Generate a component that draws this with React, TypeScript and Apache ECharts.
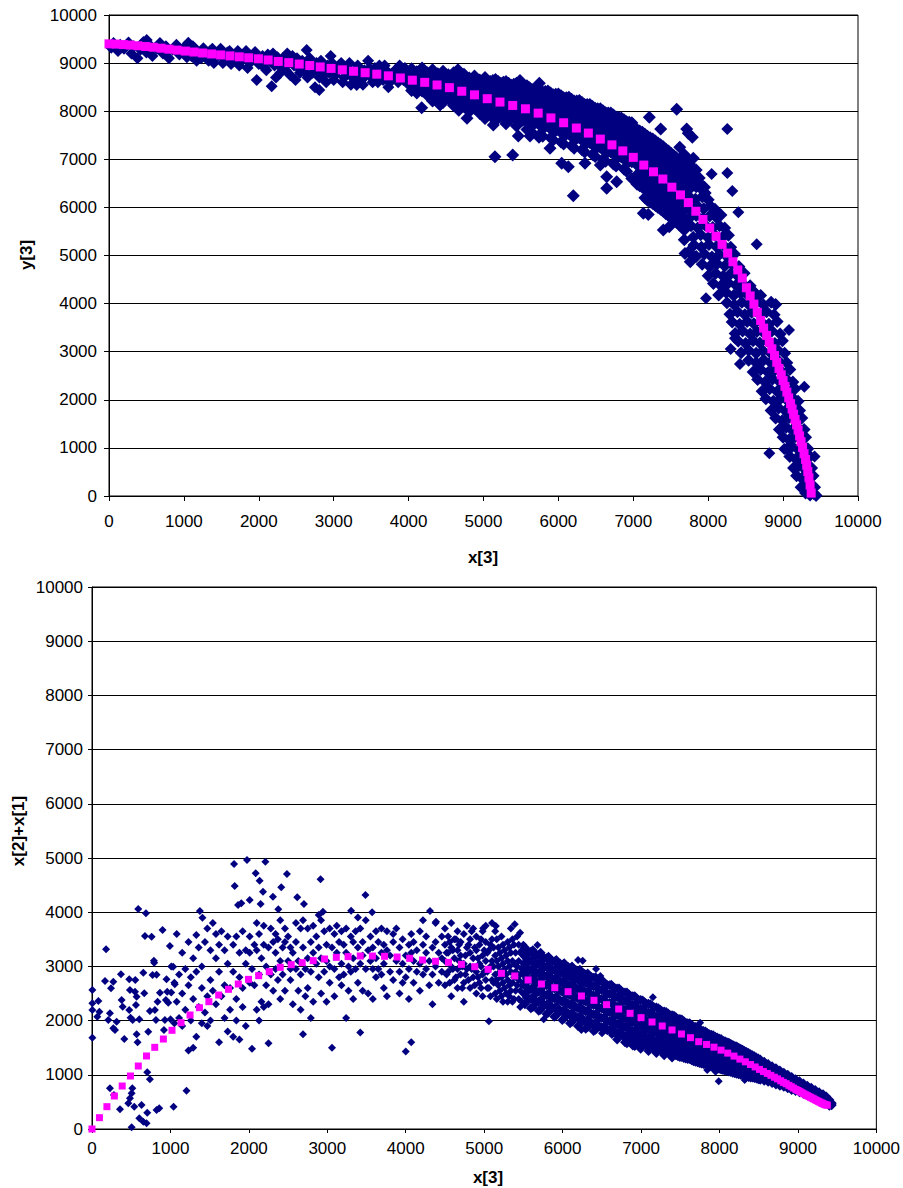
import React, { useEffect, useRef } from "react";
import * as echarts from "echarts";

const FONT = "'Liberation Sans', Arial, Helvetica, sans-serif";

// Fitted (magenta) curve: shared x[3] values, y for each panel
const curveX = [
  0, 95, 190, 285, 385, 490, 590, 695, 800, 910,
  1020, 1135, 1250, 1370, 1490, 1615, 1740, 1865, 1995, 2125,
  2260, 2400, 2540, 2680, 2820, 2965, 3115, 3265, 3420, 3575,
  3730, 3890, 4050, 4215, 4380, 4545, 4710, 4880, 5050, 5220,
  5390, 5560, 5730, 5900, 6070, 6240, 6400, 6560, 6715, 6860,
  7000, 7140, 7270, 7395, 7515, 7630, 7735, 7835, 7930, 8020,
  8105, 8185, 8260, 8330, 8395, 8455, 8510, 8560, 8610, 8655,
  8700, 8740, 8780, 8815, 8850, 8885, 8915, 8945, 8975, 9000,
  9025, 9050, 9075, 9100, 9120, 9140, 9160, 9180, 9200, 9220,
  9240, 9260, 9280, 9300, 9315, 9330, 9345, 9360, 9375,
];
const curveTopY = [
  9400, 9395, 9385, 9375, 9360, 9345, 9330, 9310, 9290, 9270,
  9250, 9230, 9210, 9190, 9170, 9150, 9130, 9110, 9090, 9065,
  9035, 9010, 8980, 8950, 8920, 8890, 8860, 8830, 8800, 8770,
  8735, 8690, 8645, 8600, 8545, 8490, 8415, 8340, 8260, 8190,
  8120, 8050, 7960, 7860, 7760, 7650, 7545, 7420, 7300, 7175,
  7040, 6880, 6740, 6590, 6420, 6260, 6100, 5920, 5750, 5570,
  5400, 5230, 5050, 4870, 4700, 4530, 4330, 4160, 3990, 3820,
  3650, 3490, 3340, 3200, 3060, 2920, 2780, 2650, 2520, 2400,
  2280, 2160, 2040, 1920, 1810, 1700, 1590, 1480, 1370, 1250,
  1130, 1010, 880, 760, 640, 510, 380, 230, 60,
];
const curveBottomY = [
  0, 209, 412, 609, 793, 978, 1162, 1347, 1507, 1660,
  1821, 1962, 2103, 2238, 2349, 2472, 2577, 2675, 2761, 2829,
  2903, 2983, 3032, 3069, 3106, 3137, 3167, 3180, 3192, 3192,
  3186, 3173, 3149, 3118, 3095, 3075, 3038, 2995, 2946, 2872,
  2823, 2749, 2675, 2607, 2533, 2454, 2374, 2294, 2214, 2134,
  2054, 1974, 1900, 1827, 1753, 1685, 1611, 1560, 1510, 1455,
  1400, 1345, 1290, 1240, 1190, 1145, 1100, 1060, 1025, 990,
  955, 925, 890, 860, 835, 805, 780, 755, 730, 710,
  690, 670, 650, 630, 615, 600, 585, 570, 555, 540,
  525, 510, 495, 480, 470, 460, 450, 445, 440,
];

// Top panel observations: y[3] vs x[3]
const topScatterA = [
  [30,9320],[60,9420],[120,9250],[150,9380],[200,9300],[260,9430],[300,9200],[330,9350],[380,9100],[420,9280],
  [460,9440],[503,9480],[500,9220],[540,9380],[580,9150],[640,9300],[680,9420],[720,9200],[760,9350],[800,9100],
  [850,9280],[900,9380],[940,9180],[990,9300],[1040,9120],[1059,9424],[1080,9250],[1120,9350],[1170,9050],[1210,9200],
  [1260,9310],[1300,9150],[1350,9250],[1400,9000],[1440,9180],[1490,9300],[1540,9080],[1580,9220],[1630,8980],[1680,9150],
  [1720,9250],[1760,9050],[1810,9180],[1850,8900],[1900,9100],[1950,9230],[1972,8650],[2000,8980],[2050,9150],[2100,8850],
  [2140,9050],[2172,8520],[2190,9200],[2230,8700],[2270,8950],[2320,9100],[2360,8850],[2400,9000],[2450,9150],[2490,8650],
  [2530,8900],[2580,9050],[2620,8800],[2639,9272],[2700,8950],[2750,8500],[2790,8850],[2808,8440],[2830,9050],[2870,8750],
  [2920,8950],[2960,9150],[3000,8650],[3050,8850],[3100,9000],[3140,8700],[3190,8900],[3230,8550],[3280,8800],[3307,8545],
  [3320,8950],[3370,8650],[3410,8850],[3460,9050],[3500,8700],[3550,8900],[3590,8600],[3640,8800],[3680,8950],[3730,8500],
  [3770,8700],[3820,8850],[3860,8600],[3910,8780],[3950,8900],[4000,8550],
];
const topScatterA2 = [
  [1020,9350],[1100,9150],[1150,9300],[1230,9100],[1280,9250],[1330,9050],[1380,9300],[1420,9100],[1470,9220],[1520,9000],
  [1560,9150],[1610,9250],[1650,9050],[1700,9200],[1740,8950],[1790,9100],[1830,9250],[1880,9000],[1920,9150],[1980,9050],
  [2020,9050],[2080,8900],[2120,9180],[2210,8950],[2250,9120],[2290,8800],[2340,8950],[2380,9200],[2420,8750],[2470,8950],
  [2510,9100],[2550,8800],[2600,8950],[2650,8700],[2680,9100],[2720,8800],[2770,9000],[2810,8700],[2850,8900],[2900,8600],
  [2940,8800],[2980,9000],[3020,8750],[3070,8950],[3120,8600],[3160,8800],[3210,9000],[3250,8700],[3300,8650],[3340,8800],
  [3390,8550],[3430,8750],[3480,8900],[3520,8600],[3570,8800],[3610,8950],[3660,8650],[3700,8850],[3750,8600],[3790,8800],
  [3840,8700],[3880,8950],[3930,8650],[3970,8800],
];
const topScatterB = [
  [4040,8880],[4040,8720],[4040,8560],[4040,8430],
  [4110,8820],[4110,8660],[4110,8500],[4110,8380],
  [4180,8900],[4180,8740],[4180,8590],[4180,8420],[4175,8073],
  [4250,8800],[4250,8650],[4250,8480],[4250,8330],
  [4320,8860],[4320,8700],[4320,8530],[4320,8390],[4320,8210],
  [4390,8780],[4390,8610],[4390,8450],[4390,8300],[4420,8129],
  [4460,8830],[4460,8680],[4460,8510],[4460,8350],[4460,8180],
  [4530,8760],[4530,8590],[4530,8420],[4530,8260],
  [4600,8800],[4600,8640],[4600,8470],[4600,8310],[4600,8120],
  [4670,8720],[4670,8560],[4670,8390],[4670,8230],[4670,8020],[4659,8860],
  [4740,8770],[4740,8610],[4740,8440],[4740,8270],[4740,8100],
  [4810,8690],[4810,8530],[4810,8360],[4810,8190],[4810,7990],[4780,7852],
  [4880,8730],[4880,8570],[4880,8400],[4880,8230],[4880,8060],
  [4950,8650],[4950,8490],[4950,8320],[4950,8150],[4950,7950],
  [5020,8700],[5020,8540],[5020,8370],[5020,8200],[5020,8020],[5020,7850],
  [5090,8620],[5090,8460],[5090,8290],[5090,8120],[5090,7930],[5131,7713],[5153,7054],
  [5160,8660],[5160,8500],[5160,8330],[5160,8160],[5160,7980],[5160,7800],
  [5230,8580],[5230,8420],[5230,8250],[5230,8080],[5230,7890],
  [5300,8620],[5300,8460],[5300,8290],[5300,8110],[5300,7940],[5300,7740],
  [5370,8540],[5370,8380],[5370,8200],[5370,8030],[5370,7850],[5390,7089],
  [5440,8580],[5440,8410],[5440,8240],[5440,8060],[5440,7890],[5440,7690],[5465,7484],[5487,8640],
  [5510,8500],[5510,8330],[5510,8160],[5510,7980],[5510,7800],
  [5580,8530],[5580,8360],[5580,8190],[5580,8010],[5580,7830],[5580,7620],[5621,7484],
  [5650,8450],[5650,8280],[5650,8100],[5650,7920],[5650,7740],[5650,7550],
  [5720,8480],[5720,8300],[5720,8120],[5720,7940],[5720,7760],[5741,7456],[5745,8580],
  [5790,8400],[5790,8220],[5790,8040],[5790,7860],[5790,7670],[5790,7480],
  [5860,8420],[5860,8240],[5860,8060],[5860,7870],[5860,7690],[5888,7228],
  [5930,8340],[5930,8160],[5930,7980],[5930,7790],[5930,7600],[5930,7400],
  [6000,8360],[6000,8180],[6000,7990],[6000,7800],[6000,7610],[6044,6916],
  [6070,8280],[6070,8100],[6070,7910],[6070,7720],[6070,7520],[6070,7320],[6132,6847],
  [6140,8290],[6140,8110],[6140,7920],[6140,7730],[6140,7530],
  [6210,8210],[6210,8030],[6210,7840],[6210,7640],[6210,7440],[6210,7230],[6199,6243],
  [6280,8220],[6280,8040],[6280,7850],[6280,7650],[6280,7450],
  [6350,8140],[6350,7960],[6350,7760],[6350,7560],[6350,7360],[6350,7150],[6355,6916],
  [6420,8140],[6420,7960],[6420,7760],[6420,7560],[6420,7350],
  [6490,8060],[6490,7880],[6490,7680],[6490,7480],[6490,7270],[6490,7060],
  [6560,8050],[6560,7870],[6560,7670],[6560,7460],[6560,7250],[6560,6880],
  [6630,7970],[6630,7790],[6630,7590],[6630,7380],[6630,7170],[6630,6960],[6645,6638],[6645,6396],
  [6700,7960],[6700,7780],[6700,7580],[6700,7370],[6700,7150],
  [6770,7880],[6770,7700],[6770,7500],[6770,7290],[6770,7070],[6770,6860],[6778,6535],
  [6840,7860],[6840,7680],[6840,7480],[6840,7270],[6840,7050],
  [6910,7780],[6910,7600],[6910,7400],[6910,7190],[6910,6970],[6910,6750],
  [6980,7760],[6980,7580],[6980,7380],[6980,7170],[6980,6950],[6980,6600],
];
const topScatterB2 = [
  [5055,8620],[5055,8450],[5055,8280],[5055,8110],[5055,7930],
  [5125,8640],[5125,8480],[5125,8310],[5125,8140],[5125,7950],
  [5195,8620],[5195,8460],[5195,8290],[5195,8120],[5195,7940],
  [5265,8600],[5265,8440],[5265,8270],[5265,8090],[5265,7910],
  [5335,8580],[5335,8420],[5335,8240],[5335,8070],[5335,7890],
  [5405,8560],[5405,8390],[5405,8220],[5405,8040],[5405,7870],
  [5475,8540],[5475,8370],[5475,8200],[5475,8020],[5475,7840],
  [5545,8510],[5545,8340],[5545,8170],[5545,7990],[5545,7810],
  [5615,8490],[5615,8320],[5615,8140],[5615,7960],[5615,7780],[5615,7590],
  [5685,8460],[5685,8290],[5685,8110],[5685,7930],[5685,7750],
  [5755,8440],[5755,8260],[5755,8080],[5755,7900],[5755,7710],[5755,7520],
  [5825,8410],[5825,8230],[5825,8050],[5825,7860],[5825,7680],
  [5895,8380],[5895,8200],[5895,8020],[5895,7830],[5895,7640],[5895,7450],
  [5965,8350],[5965,8170],[5965,7980],[5965,7790],[5965,7600],
  [6035,8320],[6035,8140],[6035,7950],[6035,7760],[6035,7560],[6035,7360],
  [6105,8280],[6105,8100],[6105,7910],[6105,7720],[6105,7520],
  [6175,8250],[6175,8070],[6175,7880],[6175,7680],[6175,7480],[6175,7280],
  [6245,8210],[6245,8030],[6245,7840],[6245,7640],[6245,7440],
  [6315,8180],[6315,8000],[6315,7800],[6315,7600],[6315,7400],[6315,7200],
  [6385,8140],[6385,7960],[6385,7760],[6385,7560],[6385,7350],
  [6455,8100],[6455,7920],[6455,7720],[6455,7520],[6455,7310],[6455,7100],
  [6525,8050],[6525,7870],[6525,7670],[6525,7470],[6525,7260],
  [6595,8010],[6595,7830],[6595,7630],[6595,7420],[6595,7210],[6595,7000],
  [6665,7960],[6665,7780],[6665,7580],[6665,7370],[6665,7160],
  [6735,7920],[6735,7740],[6735,7540],[6735,7330],[6735,7110],[6735,6900],
  [6805,7870],[6805,7690],[6805,7490],[6805,7280],[6805,7060],
  [6875,7820],[6875,7640],[6875,7440],[6875,7230],[6875,7010],[6875,6800],
  [6945,7770],[6945,7590],[6945,7390],[6945,7180],[6945,6960],
];
const topScatterC = [
  [7050,7620],[7050,7450],[7050,7270],[7050,7080],[7050,6880],[7050,6680],[7050,6480],
  [7120,7560],[7120,7390],[7120,7210],[7120,7020],[7120,6820],[7120,6620],[7120,6420],[7134,5877],
  [7190,7480],[7190,7310],[7190,7130],[7190,6940],[7190,6740],[7190,6540],[7190,6340],[7190,6150],[7214,7873],[7200,5850],
  [7260,7420],[7260,7250],[7260,7070],[7260,6880],[7260,6680],[7260,6480],[7260,6280],[7260,6080],
  [7330,7340],[7330,7170],[7330,6990],[7330,6800],[7330,6600],[7330,6400],[7330,6200],[7330,6000],[7366,7630],
  [7400,7260],[7400,7090],[7400,6910],[7400,6720],[7400,6520],[7400,6320],[7400,6120],[7400,5920],[7401,5530],
  [7470,7170],[7470,7000],[7470,6820],[7470,6630],[7470,6430],[7470,6230],[7470,6030],[7470,5830],[7480,5600],
  [7540,7080],[7540,6910],[7540,6730],[7540,6540],[7540,6340],[7540,6140],[7540,5940],[7540,5740],[7579,8040],
  [7610,6980],[7610,6810],[7610,6630],[7610,6440],[7610,6240],[7610,6040],[7610,5840],[7610,5640],
  [7680,6870],[7680,6700],[7680,6520],[7680,6330],[7680,6130],[7680,5930],[7680,5730],[7680,5530],[7680,5330],
  [7690,5040],[7713,7630],[7734,7540],[7788,7457],[7801,7020],[7740,5080],[7760,4870],
];
const topScatterC2 = [
  [7085,7590],[7085,7420],[7085,7240],[7085,7050],[7085,6850],[7085,6650],[7085,6450],
  [7155,7520],[7155,7350],[7155,7170],[7155,6980],[7155,6780],[7155,6580],[7155,6380],[7155,6200],
  [7225,7450],[7225,7280],[7225,7100],[7225,6910],[7225,6710],[7225,6510],[7225,6310],[7225,6110],
  [7295,7380],[7295,7210],[7295,7030],[7295,6840],[7295,6640],[7295,6440],[7295,6240],[7295,6040],
  [7365,7300],[7365,7130],[7365,6950],[7365,6760],[7365,6560],[7365,6360],[7365,6160],[7365,5960],
  [7435,7210],[7435,7040],[7435,6860],[7435,6670],[7435,6470],[7435,6270],[7435,6070],[7435,5870],
  [7505,7120],[7505,6950],[7505,6770],[7505,6580],[7505,6380],[7505,6180],[7505,5980],[7505,5780],
  [7575,7030],[7575,6860],[7575,6680],[7575,6490],[7575,6290],[7575,6090],[7575,5890],[7575,5690],
  [7645,6930],[7645,6760],[7645,6580],[7645,6390],[7645,6190],[7645,5990],[7645,5790],[7645,5590],
  [7560,7020],[7640,6980],[7720,7010],[7700,6800],[7780,6830],[7840,6780],[7740,6620],[7810,6570],[7880,6610],
  [7760,6400],[7840,6430],[7910,6380],[7950,6420],[7960,6300],[7890,6500],[7820,6700],[7750,6900],[7680,7100],
  [7620,7250],
];
const topScatterD = [
  [7740,6230],[7830,6170],[7920,6220],[8000,6160],
  [7760,5980],[7850,6040],[7940,5970],[8030,6030],[8090,5960],
  [7750,5780],[7840,5830],[7930,5770],[8020,5820],[8110,5790],[8170,5840],
  [7770,5620],[7860,5570],[7960,5630],[8060,5580],[8150,5620],[8220,5570],
  [7800,5380],[7900,5430],[8000,5370],[8090,5420],[8190,5380],[8270,5420],
  [7810,5220],[7910,5170],[8010,5230],[8110,5180],[8200,5220],[8300,5170],
  [7840,4980],[7950,5030],[8050,4970],[8150,5020],[8250,4980],[8350,5030],
  [7920,4820],[8020,4770],[8120,4830],[8220,4780],[8320,4820],[8410,4770],
  [8000,4580],[8100,4630],[8200,4570],[8300,4620],[8390,4580],[8480,4630],
  [8070,4420],[8170,4370],[8270,4430],[8370,4380],[8460,4420],[8560,4370],
  [8140,4180],[8240,4230],[8340,4170],[8430,4220],[8530,4180],[8620,4230],[8700,4170],
  [8250,4020],[8350,3970],[8450,4030],[8540,3980],[8640,4020],[8740,3970],[8840,4030],[8900,3980],
  [8290,3780],[8390,3830],[8490,3770],[8580,3820],[8680,3780],[8780,3830],[8880,3770],
  [8320,3620],[8420,3570],[8520,3630],[8610,3580],[8710,3620],[8810,3570],[8920,3630],
  [8360,3380],[8460,3430],[8560,3370],[8650,3420],[8750,3380],[8850,3430],[8960,3370],
  [8400,3220],[8500,3170],[8600,3230],[8690,3180],[8790,3220],[8890,3170],[8990,3230],
  [8440,2980],[8540,3030],[8640,2970],[8730,3020],[8830,2980],[8930,3030],[9020,2970],
  [8540,2820],[8640,2770],[8740,2830],[8830,2780],[8930,2820],[9050,2770],
  [8600,2580],[8700,2630],[8800,2570],[8890,2620],[8990,2580],[9090,2630],
  [8660,2420],[8760,2370],[8860,2430],[8950,2380],[9050,2420],[9130,2370],
  [8720,2180],[8820,2230],[8920,2170],[9010,2220],[9100,2180],[9160,2230],
  [8770,2020],[8870,1970],[8970,2030],[9060,1980],[9140,2020],[9200,1970],
  [8840,1780],[8940,1830],[9030,1770],[9120,1820],[9220,1780],
  [8900,1620],[8990,1570],[9080,1630],[9160,1580],[9250,1620],
  [8950,1380],[9040,1430],[9120,1370],[9200,1420],[9280,1380],
  [9000,1220],[9080,1170],[9160,1230],[9240,1180],[9300,1220],
  [9050,980],[9120,1030],[9200,970],[9270,1020],[9330,980],
  [9090,820],[9170,770],[9240,830],[9300,780],[9360,820],
  [9140,580],[9210,630],[9280,570],[9340,620],[9380,580],
  [9180,420],[9250,370],[9310,430],[9370,380],[9400,420],
  [9240,180],[9290,230],[9340,170],[9390,220],[9420,180],
  [9300,60],[9360,20],[9410,50],[9440,10],
];
const topOutliers = [
  [7971,4110],[8816,888],[9016,977],[9283,2273],[9079,3451],[8300,3056],[8424,2744],[8358,3278],[8402,5898],[8255,7630],
  [8255,6715],[8322,6341],[8046,6694],[8647,5233],[9420,820],
];

// Bottom panel observations: x[2]+x[1] vs x[3]
const bottomScatterA = [
  [5,2565],[5,2319],[5,2196],[5,1685],[81,2362],[94,2165],[68,2073],[179,3315],[166,2731],[272,2718],
  [242,2595],[229,2134],[208,2011],[272,1857],[293,1826],[314,1980],[369,2854],[378,2380],[391,2257],[412,1660],
  [475,2761],[484,2565],[475,2196],[492,2054],[518,2011],[552,2749],[548,2534],[569,2441],[560,2288],[569,1747],
  [581,1599],[603,2023],[654,2884],[666,2503],[675,3561],[717,1796],[738,2177],[760,3549],[772,2841],[789,3106],
  [793,3069],[802,2196],[823,2847],[815,2011],[836,2349],[866,2515],[900,3672],[917,1826],[929,2011],[942,2380],
  [959,2534],[950,2761],[972,2331],[993,3376],[1001,2023],[1035,2995],[1056,2669],[229,750],[280,627],[357,363],
  [463,473],[514,750],[505,658],[484,566],[539,412],[603,197],[632,443],[654,135],[696,105],[704,301],
  [823,350],[857,381],[738,916],[704,1045],[505,31],[590,4059],[688,3979],[1040,412],[1205,705],
];
const bottomScatterB = [
  [1010,2520],[1010,3000],[1050,1950],[1050,2700],[1080,2350],[1080,3600],[1110,2050],[1110,2850],[1150,2500],[1150,3250],
  [1150,1900],[1190,2200],[1190,2950],[1230,1450],[1230,2650],[1230,3450],[1260,2000],[1260,2800],[1290,1500],[1290,2400],
  [1290,3150],[1330,1700],[1330,2900],[1330,3580],[1360,2250],[1360,3350],[1400,1950],[1400,2600],[1400,3000],[1440,2150],
  [1440,3450],[1470,2450],[1470,3700],[1470,1900],[1510,2000],[1510,2750],[1510,3300],[1540,3800],[1540,2550],[1580,2300],
  [1580,3150],[1580,3600],[1620,2900],[1620,3400],[1620,1600],[1650,2450],[1650,3650],[1690,2050],[1690,3300],[1690,2650],
  [1730,1800],[1730,3050],[1730,3550],[1760,2200],[1760,2600],[1800,1700],[1800,2900],[1800,3400],[1840,2400],[1840,3550],
  [1840,2000],[1880,1650],[1880,2800],[1880,3250],[1920,2250],[1920,3650],[1920,2600],[1960,1900],[1960,3050],[1960,3300],
];
const bottomScatterC = [
  [2010,2700],[2010,3250],[2010,3550],[2040,1480],[2040,2950],[2070,2650],[2070,3400],[2100,2200],[2100,3300],[2100,3800],
  [2130,2000],[2130,2850],[2130,3600],[2160,2350],[2160,3150],[2190,2250],[2190,3400],[2190,3750],[2220,2650],[2220,3000],
  [2250,1580],[2250,3350],[2250,2300],[2280,2850],[2280,3700],[2310,2550],[2310,3450],[2340,2950],[2340,3250],[2340,3600],
  [2370,2750],[2370,3500],[2400,2400],[2400,3100],[2400,3850],[2430,2850],[2430,3350],[2460,3450],[2460,3700],[2460,2550],
  [2500,3100],[2500,3550],[2530,2750],[2530,2950],[2530,3350],[2560,2300],[2560,3250],[2600,2950],[2600,3450],[2600,3800],
  [2630,2550],[2630,3100],[2660,2200],[2660,2850],[2660,3700],[2690,1750],[2690,3350],[2690,3850],[2720,2450],[2720,2950],
  [2750,3150],[2750,3700],[2750,2600],[2790,2050],[2790,2900],[2790,3450],[2820,2350],[2820,3250],[2820,3750],[2860,3050],
  [2860,3550],[2890,2800],[2890,3350],[2890,3950],[2920,2500],[2920,3150],[2920,3850],[2960,2900],[2960,3650],[2990,2350],
  [2990,3400],[2990,3100],
];
const bottomScatterD = [
  [3030,2700],[3030,3700],[3030,3000],[3060,1500],[3060,3350],[3090,2450],[3090,2950],[3090,3600],[3120,3250],[3120,3750],
  [3150,2800],[3150,3450],[3180,3050],[3180,3650],[3180,2650],[3210,2850],[3210,3400],[3240,2050],[3240,3250],[3240,3700],
  [3270,2550],[3270,3000],[3300,2900],[3300,3550],[3330,2400],[3330,3150],[3330,3450],[3360,2950],[3360,3650],[3390,2700],
  [3390,3350],[3390,3900],[3420,1780],[3420,3050],[3420,3700],[3450,2550],[3450,3200],[3450,3450],[3490,2950],[3490,3850],
  [3520,2500],[3520,3300],[3550,3100],[3550,3550],[3580,2400],[3580,2950],[3580,3350],[3620,2800],[3620,3150],[3620,3650],
  [3650,2950],[3650,3450],[3690,2850],[3690,3250],[3690,3700],[3720,2600],[3720,3050],[3720,3400],[3760,2450],[3760,3300],
  [3760,3650],[3800,2900],[3800,3200],[3840,2750],[3840,3450],[3840,3600],[3880,3100],[3880,3700],[3920,2500],[3920,2900],
  [3920,3350],[3960,3050],[3960,3500],[3960,2700],[4000,1430],[4000,2800],[4000,3200],[4040,2400],[4040,3400],[4040,2950],
  [4070,1600],[4070,3250],[4070,3600],[4100,2700],[4100,3100],[4100,3450],[4140,2900],[4140,3300],[4180,2550],[4180,3650],
  [4180,3050],[4220,2850],[4220,3400],[4220,3850],[4260,2950],[4260,3250],[4260,3550],[4300,2650],[4300,3100],[4340,2300],
  [4340,3350],[4340,2850],[4380,3000],[4380,3450],[4380,3800],[4420,2700],[4420,3250],[4460,2900],[4460,3550],[4460,3150],
];
const bottomScatterE = [
  [4500,2650],[4500,3100],[4500,3400],[4500,3700],[4540,2900],[4540,3250],[4540,3550],[4580,2450],[4580,3000],[4580,3350],
  [4580,3800],[4620,2750],[4620,3150],[4620,3500],[4660,2600],[4660,2950],[4660,3300],[4660,3650],[4700,2850],[4700,3200],
  [4700,3450],[4740,2350],[4740,2700],[4740,3050],[4740,3600],[4780,2950],[4780,3350],[4780,3750],[4820,2600],[4820,3000],
  [4820,3250],[4820,3500],[4860,2800],[4860,3150],[4860,3700],[4900,2500],[4900,2900],[4900,3300],[4900,3550],[4940,2700],
  [4940,3050],[4940,3400],[4980,2450],[4980,2850],[4980,3200],[4980,3650],[5020,2750],[5020,3100],[5020,3450],[5020,3750],
  [5060,1990],[5060,2600],[5060,2950],[5060,3300],[5100,2750],[5100,3100],[5100,3500],[5100,3800],[5140,2500],[5140,2850],
  [5140,3200],[5140,3650],[5180,2650],[5180,3000],[5180,3350],[5220,2450],[5220,2800],[5220,3150],[5220,3550],[5260,2600],
  [5260,2950],[5260,3300],[5300,2350],[5300,2750],[5300,3100],[5300,3450],[5340,2550],[5340,2900],[5340,3250],[5340,3700],
  [5380,2400],[5380,2800],[5380,3050],[5380,3400],[5420,2650],[5420,3000],[5420,3550],[5460,2250],[5460,2550],[5460,2850],
  [5460,3250],[5500,2700],[5500,3050],[5500,3400],
];
const bottomScatterE2 = [
  [4520,2850],[4520,3250],[4560,2700],[4560,3450],[4600,2950],[4600,3300],[4640,2800],[4640,3500],[4680,3100],[4680,3400],
  [4720,2600],[4720,3000],[4760,2850],[4760,3200],[4800,2750],[4800,3400],[4840,2950],[4840,3650],[4880,2650],[4880,3350],
  [4920,2800],[4920,3150],[4960,2600],[4960,3000],[4960,3500],[5000,2900],[5000,3300],[5040,2600],[5040,2900],[5040,3250],
  [5080,2450],[5080,3000],[5080,3400],[5120,2700],[5120,3000],[5120,3350],[5160,2400],[5160,2750],[5160,3100],[5160,3500],
  [5200,2550],[5200,2900],[5200,3250],[5240,2350],[5240,2700],[5240,3050],[5240,3400],[5280,2500],[5280,2850],[5280,3200],
  [5320,2450],[5320,2650],[5320,3000],[5320,3350],[5360,2350],[5360,2700],[5360,3100],[5360,3500],[5400,2550],[5400,2900],
  [5400,3250],[5440,2400],[5440,2750],[5440,3100],[5440,3400],[5480,2350],[5480,2650],[5480,2950],[5480,3300],[5500,2500],
  [5500,2850],[5500,3200],
];
const bottomScatterF = [
  [5520,3350],[5520,3180],[5520,3010],[5520,2840],[5520,2660],[5520,2480],[5520,2300],
  [5570,3250],[5570,3090],[5570,2920],[5570,2750],[5570,2570],[5570,2390],
  [5620,3300],[5620,3130],[5620,2960],[5620,2790],[5620,2610],[5620,2430],[5620,2250],
  [5670,3200],[5670,3040],[5670,2870],[5670,2700],[5670,2520],[5670,2340],
  [5720,3250],[5720,3080],[5720,2910],[5720,2740],[5720,2560],[5720,2380],[5720,2200],
  [5770,3150],[5770,2990],[5770,2820],[5770,2650],[5770,2470],[5770,2290],
  [5820,3180],[5820,3020],[5820,2850],[5820,2680],[5820,2500],[5820,2320],[5820,2150],
  [5870,3100],[5870,2940],[5870,2770],[5870,2600],[5870,2420],[5870,2240],
  [5920,3120],[5920,2960],[5920,2790],[5920,2620],[5920,2440],[5920,2260],[5920,2100],
  [5970,3050],[5970,2890],[5970,2720],[5970,2550],[5970,2370],[5970,2190],
  [6020,3060],[6020,2900],[6020,2730],[6020,2560],[6020,2380],[6020,2200],[6020,2040],
  [6070,2990],[6070,2830],[6070,2660],[6070,2490],[6070,2310],[6070,2130],
  [6120,3000],[6120,2840],[6120,2670],[6120,2500],[6120,2320],[6120,2140],[6120,1980],
  [6170,2930],[6170,2770],[6170,2600],[6170,2430],[6170,2250],[6170,2070],
  [6220,2940],[6220,2780],[6220,2610],[6220,2440],[6220,2260],[6220,2080],[6220,1930],
  [6270,2870],[6270,2710],[6270,2540],[6270,2370],[6270,2190],[6270,2010],
  [6320,2870],[6320,2710],[6320,2540],[6320,2370],[6320,2190],[6320,2020],[6320,1880],
  [6370,2800],[6370,2640],[6370,2470],[6370,2300],[6370,2120],[6370,1950],
  [6420,2800],[6420,2640],[6420,2470],[6420,2300],[6420,2120],[6420,1960],[6420,1830],
  [6470,2730],[6470,2570],[6470,2400],[6470,2230],[6470,2060],[6470,1890],
];
const bottomScatterF2 = [
  [5545,3290],[5545,3120],[5545,2950],[5545,2780],[5545,2600],[5545,2420],
  [5595,3270],[5595,3100],[5595,2930],[5595,2760],[5595,2580],[5595,2400],[5595,2230],
  [5645,3230],[5645,3070],[5645,2900],[5645,2730],[5645,2550],[5645,2370],
  [5695,3210],[5695,3050],[5695,2880],[5695,2710],[5695,2530],[5695,2350],[5695,2180],
  [5745,3180],[5745,3020],[5745,2850],[5745,2680],[5745,2500],[5745,2320],
  [5795,3150],[5795,2990],[5795,2820],[5795,2650],[5795,2470],[5795,2290],[5795,2120],
  [5845,3120],[5845,2960],[5845,2790],[5845,2620],[5845,2440],[5845,2260],
  [5895,3090],[5895,2930],[5895,2760],[5895,2590],[5895,2410],[5895,2230],[5895,2070],
  [5945,3060],[5945,2900],[5945,2730],[5945,2560],[5945,2380],[5945,2200],
  [5995,3030],[5995,2870],[5995,2700],[5995,2530],[5995,2350],[5995,2170],[5995,2010],
  [6045,3000],[6045,2840],[6045,2670],[6045,2500],[6045,2320],[6045,2140],
  [6095,2970],[6095,2810],[6095,2640],[6095,2470],[6095,2290],[6095,2110],[6095,1950],
  [6145,2940],[6145,2780],[6145,2610],[6145,2440],[6145,2260],[6145,2080],
  [6195,2910],[6195,2750],[6195,2580],[6195,2410],[6195,2230],[6195,2050],[6195,1900],
  [6245,2880],[6245,2720],[6245,2550],[6245,2380],[6245,2200],[6245,2020],
  [6295,2850],[6295,2690],[6295,2520],[6295,2350],[6295,2170],[6295,1990],[6295,1850],
  [6345,2820],[6345,2660],[6345,2490],[6345,2320],[6345,2140],[6345,1960],
  [6395,2790],[6395,2630],[6395,2460],[6395,2290],[6395,2110],[6395,1930],[6395,1810],
  [6445,2760],[6445,2600],[6445,2430],[6445,2260],[6445,2080],[6445,1900],
  [6495,2730],[6495,2570],[6495,2400],[6495,2230],[6495,2050],[6495,1870],
];
const bottomScatterG = [
  [6520,2720],[6520,2560],[6520,2390],[6520,2220],[6520,2050],[6520,1880],
  [6570,2650],[6570,2490],[6570,2320],[6570,2150],[6570,1990],[6570,1820],
  [6620,2660],[6620,2500],[6620,2330],[6620,2160],[6620,2000],[6620,1840],
  [6670,2590],[6670,2430],[6670,2260],[6670,2090],[6670,1930],[6670,1770],
  [6720,2590],[6720,2430],[6720,2260],[6720,2100],[6720,1940],[6720,1780],
  [6770,2520],[6770,2360],[6770,2200],[6770,2040],[6770,1880],[6770,1720],
  [6820,2520],[6820,2360],[6820,2200],[6820,2040],[6820,1880],[6820,1720],[6820,1580],
  [6870,2450],[6870,2290],[6870,2130],[6870,1970],[6870,1810],[6870,1660],
  [6920,2450],[6920,2290],[6920,2130],[6920,1970],[6920,1810],[6920,1660],[6920,1530],
  [6970,2380],[6970,2220],[6970,2060],[6970,1900],[6970,1750],[6970,1600],
  [7020,2370],[7020,2210],[7020,2050],[7020,1890],[7020,1740],[7020,1590],
  [7070,2310],[7070,2150],[7070,1990],[7070,1840],[7070,1690],[7070,1540],
  [7120,2300],[7120,2140],[7120,1980],[7120,1830],[7120,1680],[7120,1530],
  [7170,2240],[7170,2080],[7170,1930],[7170,1780],[7170,1630],[7170,1490],
  [7220,2230],[7220,2070],[7220,1920],[7220,1770],[7220,1620],[7220,1480],
  [7270,2170],[7270,2020],[7270,1870],[7270,1720],[7270,1580],[7270,1440],
  [7320,2160],[7320,2010],[7320,1860],[7320,1710],[7320,1570],[7320,1430],
  [7370,2100],[7370,1950],[7370,1810],[7370,1670],[7370,1530],[7370,1390],
  [7420,2090],[7420,1940],[7420,1800],[7420,1660],[7420,1520],[7420,1380],
  [7470,2030],[7470,1890],[7470,1750],[7470,1610],[7470,1470],[7470,1340],
];
const bottomScatterG2 = [
  [6545,2680],[6545,2520],[6545,2350],[6545,2180],[6545,2020],[6545,1850],
  [6595,2650],[6595,2490],[6595,2320],[6595,2160],[6595,1990],[6595,1830],
  [6645,2620],[6645,2460],[6645,2290],[6645,2130],[6645,1960],[6645,1800],
  [6695,2590],[6695,2430],[6695,2260],[6695,2100],[6695,1930],[6695,1770],[6695,1650],
  [6745,2550],[6745,2390],[6745,2230],[6745,2070],[6745,1910],[6745,1750],
  [6795,2520],[6795,2360],[6795,2200],[6795,2040],[6795,1880],[6795,1720],[6795,1600],
  [6845,2480],[6845,2320],[6845,2160],[6845,2000],[6845,1840],[6845,1690],
  [6895,2450],[6895,2290],[6895,2130],[6895,1970],[6895,1810],[6895,1660],[6895,1540],
  [6945,2410],[6945,2250],[6945,2090],[6945,1940],[6945,1780],[6945,1630],
  [6995,2380],[6995,2220],[6995,2060],[6995,1910],[6995,1750],[6995,1600],[6995,1480],
  [7045,2340],[7045,2180],[7045,2030],[7045,1870],[7045,1720],[7045,1570],
  [7095,2310],[7095,2150],[7095,2000],[7095,1840],[7095,1690],[7095,1540],[7095,1440],
  [7145,2270],[7145,2110],[7145,1960],[7145,1810],[7145,1660],[7145,1510],
  [7195,2240],[7195,2080],[7195,1930],[7195,1780],[7195,1630],[7195,1480],[7195,1400],
  [7245,2200],[7245,2050],[7245,1900],[7245,1750],[7245,1600],[7245,1460],
  [7295,2170],[7295,2020],[7295,1870],[7295,1720],[7295,1570],[7295,1430],[7295,1360],
  [7345,2130],[7345,1980],[7345,1840],[7345,1690],[7345,1550],[7345,1410],
  [7395,2100],[7395,1950],[7395,1810],[7395,1660],[7395,1520],[7395,1380],[7395,1320],
  [7445,2060],[7445,1920],[7445,1780],[7445,1640],[7445,1500],[7445,1360],
  [7495,2030],[7495,1890],[7495,1750],[7495,1610],[7495,1470],[7495,1330],
];
const bottomScatterH = [
  [7520,2020],[7520,1880],[7520,1740],[7520,1600],[7520,1460],[7520,1330],
  [7570,1960],[7570,1820],[7570,1690],[7570,1560],[7570,1430],[7570,1300],
  [7620,1950],[7620,1810],[7620,1680],[7620,1550],[7620,1420],[7620,1290],
  [7670,1890],[7670,1760],[7670,1630],[7670,1500],[7670,1370],[7670,1250],
  [7720,1870],[7720,1740],[7720,1610],[7720,1480],[7720,1350],[7720,1230],
  [7770,1820],[7770,1690],[7770,1570],[7770,1450],[7770,1330],[7770,1210],
  [7820,1800],[7820,1670],[7820,1550],[7820,1430],[7820,1310],[7820,1190],
  [7870,1750],[7870,1630],[7870,1510],[7870,1390],[7870,1270],[7870,1160],
  [7920,1730],[7920,1610],[7920,1490],[7920,1370],[7920,1250],[7920,1140],
  [7970,1690],[7970,1570],[7970,1450],[7970,1340],[7970,1230],[7970,1120],
  [8020,1660],[8020,1540],[8020,1430],[8020,1320],[8020,1210],[8020,1100],
  [8070,1620],[8070,1510],[8070,1400],[8070,1290],[8070,1180],[8070,1080],
  [8120,1590],[8120,1480],[8120,1370],[8120,1270],[8120,1170],[8120,1060],
  [8170,1550],[8170,1440],[8170,1340],[8170,1240],[8170,1140],[8170,1040],
  [8220,1520],[8220,1420],[8220,1320],[8220,1220],[8220,1120],[8220,1020],
  [8270,1480],[8270,1380],[8270,1280],[8270,1190],[8270,1100],[8270,1000],
  [8320,1440],[8320,1350],[8320,1260],[8320,1170],[8320,1080],[8320,990],
  [8370,1400],[8370,1310],[8370,1220],[8370,1140],[8370,1050],[8370,960],
  [8420,1360],[8420,1280],[8420,1200],[8420,1120],[8420,1040],[8420,950],
  [8470,1320],[8470,1240],[8470,1160],[8470,1080],[8470,1000],[8470,930],
  [8520,1280],[8520,1200],[8520,1130],[8520,1060],[8520,990],[8520,910],
  [8570,1240],[8570,1170],[8570,1100],[8570,1030],[8570,960],[8570,890],
  [8620,1200],[8620,1130],[8620,1060],[8620,1000],[8620,930],[8620,870],
  [8670,1160],[8670,1090],[8670,1030],[8670,970],[8670,910],[8670,850],
  [8720,1120],[8720,1060],[8720,1000],[8720,940],[8720,880],[8720,820],
  [8770,1080],[8770,1020],[8770,960],[8770,910],[8770,860],[8770,800],
  [8820,1040],[8820,990],[8820,930],[8820,880],[8820,830],[8820,780],
  [8870,1000],[8870,950],[8870,900],[8870,850],[8870,800],[8870,750],
  [8920,960],[8920,910],[8920,860],[8920,820],[8920,770],[8920,720],
  [8970,920],[8970,880],[8970,830],[8970,790],[8970,740],[8970,700],
  [9020,880],[9020,840],[9020,800],[9020,760],[9020,720],[9020,680],
  [9070,840],[9070,800],[9070,770],[9070,730],[9070,690],[9070,650],
  [9120,800],[9120,760],[9120,730],[9120,700],[9120,660],[9120,630],
  [9170,760],[9170,730],[9170,700],[9170,670],[9170,640],[9170,600],
  [9220,720],[9220,690],[9220,660],[9220,640],[9220,610],[9220,580],
  [9270,680],[9270,650],[9270,630],[9270,600],[9270,580],[9270,550],
  [9320,640],[9320,610],[9320,590],[9320,570],[9320,540],[9320,520],
  [9360,600],[9360,570],[9360,550],[9360,530],[9360,510],[9360,490],
  [9400,540],[9400,510],[9400,490],[9400,470],[9400,450],[9400,430],
  [9430,480],[9430,460],[9430,440],
];
const bottomScatterH2 = [
  [7545,1990],[7545,1850],[7545,1710],[7545,1580],[7545,1440],[7545,1310],
  [7595,1950],[7595,1810],[7595,1680],[7595,1550],[7595,1420],[7595,1290],
  [7645,1920],[7645,1780],[7645,1650],[7645,1520],[7645,1390],[7645,1270],
  [7695,1880],[7695,1750],[7695,1620],[7695,1490],[7695,1360],[7695,1240],
  [7745,1840],[7745,1710],[7745,1590],[7745,1460],[7745,1340],[7745,1220],
  [7795,1810],[7795,1680],[7795,1560],[7795,1440],[7795,1320],[7795,1200],
  [7845,1770],[7845,1650],[7845,1530],[7845,1410],[7845,1290],[7845,1180],
  [7895,1740],[7895,1620],[7895,1500],[7895,1380],[7895,1260],[7895,1150],
  [7945,1700],[7945,1580],[7945,1460],[7945,1350],[7945,1240],[7945,1130],
  [7995,1670],[7995,1550],[7995,1440],[7995,1330],[7995,1220],[7995,1110],
  [8045,1630],[8045,1520],[8045,1410],[8045,1300],[8045,1190],[8045,1090],
  [8095,1600],[8095,1490],[8095,1380],[8095,1280],[8095,1170],[8095,1070],
  [8145,1570],[8145,1460],[8145,1350],[8145,1250],[8145,1150],[8145,1050],
  [8195,1530],[8195,1430],[8195,1330],[8195,1230],[8195,1130],[8195,1030],
  [8245,1500],[8245,1400],[8245,1300],[8245,1200],[8245,1110],[8245,1010],
  [8295,1460],[8295,1360],[8295,1270],[8295,1180],[8295,1090],[8295,1000],
  [8345,1420],[8345,1330],[8345,1240],[8345,1150],[8345,1060],[8345,970],
  [8395,1380],[8395,1300],[8395,1210],[8395,1130],[8395,1040],[8395,950],
  [8445,1340],[8445,1260],[8445,1180],[8445,1100],[8445,1020],[8445,940],
  [8495,1300],[8495,1220],[8495,1150],[8495,1070],[8495,1000],[8495,920],
];
const bottomOutliers = [
  [1811,4889],[1976,4963],[2210,4932],[2087,4717],[2137,4582],[2485,4705],[1819,4483],[1862,4133],[1904,4164],[2010,4225],
  [2180,4379],[2307,4287],[2413,4459],[2150,4151],[2617,4274],[2702,4151],[2914,4606],[3486,4317],[3304,4028],[3571,3997],
  [1375,4022],[1408,3899],[2375,4053],[2944,4010],[4309,4022],[4386,3825],
  [5390,3776],[5458,3623],[4987,3702],[5148,3745],[5679,3395],[6197,3118],[6256,3106],[6426,2952],[6481,2823],[7151,2429],
  [7753,1962],[8262,1212],[7074,1562],[7990,880],[7844,1089],[7950,1058],[8321,905],[6239,1827],[5759,2023],[6502,1765],
  [6629,1734],[6735,1808],
];

function makeAxis(gridIndex: number, margin: number, tickLen: number, isY: boolean) {
  return {
    type: "value",
    gridIndex,
    min: 0,
    max: 10000,
    interval: 1000,
    axisLine: { show: true, onZero: false, lineStyle: { color: "#000", width: 1 } },
    axisTick: { show: true, inside: false, length: tickLen, lineStyle: { color: "#000", width: 1 } },
    axisLabel: {
      color: "#000",
      fontSize: 17,
      fontFamily: FONT,
      margin,
      formatter: (v: number) => String(v),
    },
    splitLine: { show: isY, lineStyle: { color: "#000", width: 1 } },
  };
}

function titleText(text: string, x: number, y: number, rotate: boolean) {
  return {
    type: "text",
    x,
    y,
    rotation: rotate ? Math.PI / 2 : 0,
    style: {
      text,
      fill: "#000",
      fontSize: 17,
      fontWeight: "bold",
      fontFamily: FONT,
      align: "center",
      verticalAlign: "middle",
      textAlign: "center",
      textVerticalAlign: "middle",
    },
  };
}

function navy(xi: number, data: number[][], size: number) {
  return {
    type: "scatter", xAxisIndex: xi, yAxisIndex: xi, data, large: false,
    symbol: "diamond", symbolSize: size, itemStyle: { color: "#000080", opacity: 1 }, clip: false, silent: true,
  };
}

export default function App() {
  const ref = useRef<HTMLDivElement>(null);
  useEffect(() => {
    if (!ref.current) return;
    const chart = echarts.init(ref.current, null, { renderer: "svg" });
    const topSparse = [...topScatterA, ...topScatterA2, ...topOutliers];
    const topDense = [...topScatterB, ...topScatterB2, ...topScatterC, ...topScatterC2, ...topScatterD];
    const bottomSparse = [
      ...bottomScatterA, ...bottomScatterB, ...bottomScatterC, ...bottomScatterD,
      ...bottomScatterE, ...bottomScatterE2, ...bottomOutliers,
    ];
    const bottomDense = [
      ...bottomScatterF, ...bottomScatterF2, ...bottomScatterG, ...bottomScatterG2,
      ...bottomScatterH, ...bottomScatterH2,
    ];
    const topCurve = curveX.map((x, i) => [x, curveTopY[i]]);
    const bottomCurve = curveX.map((x, i) => [x, curveBottomY[i]]);
    chart.setOption({
      animation: false,
      backgroundColor: "#fff",
      grid: [
        { left: 109, top: 15, width: 749, height: 481, show: true, borderColor: "#000", borderWidth: 1 },
        { left: 92, top: 587, width: 786, height: 542, show: true, borderColor: "#000", borderWidth: 1 },
      ],
      xAxis: [makeAxis(0, 17, 5, false), makeAxis(1, 11, 4, false)],
      yAxis: [makeAxis(0, 12, 5, true), makeAxis(1, 9, 4, true)],
      graphic: [
        titleText("y[3]", 26, 255, true),
        titleText("x[3]", 483, 557, false),
        titleText("x[2]+x[1]", 18, 831, true),
        titleText("x[3]", 488, 1177, false),
      ],
      series: [
        navy(0, topSparse, 12),
        navy(0, topDense, 13),
        {
          type: "scatter", xAxisIndex: 0, yAxisIndex: 0, data: topCurve,
          symbol: "rect", symbolSize: 9, itemStyle: { color: "#FF00FF", opacity: 1 }, clip: false, silent: true,
        },
        navy(1, bottomSparse, 8),
        navy(1, bottomDense, 10),
        {
          type: "scatter", xAxisIndex: 1, yAxisIndex: 1, data: bottomCurve,
          symbol: "rect", symbolSize: 7, itemStyle: { color: "#FF00FF", opacity: 1 }, clip: false, silent: true,
        },
      ],
    });
    return () => chart.dispose();
  }, []);
  return (
    <div
      ref={ref}
      style={{ position: "absolute", left: 0, top: 0, width: 903, height: 1188, background: "#fff" }}
    />
  );
}
